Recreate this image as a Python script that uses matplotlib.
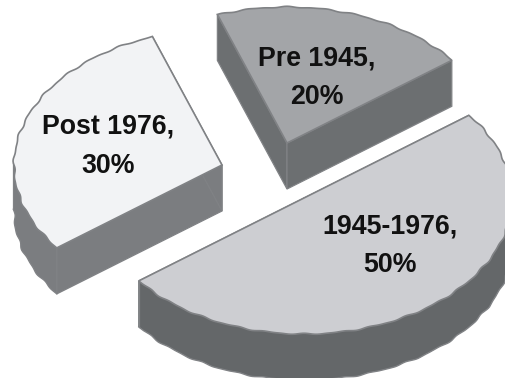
import numpy as np
import matplotlib
matplotlib.use("Agg")
import matplotlib.pyplot as plt
from matplotlib.patches import Polygon

categories = ["Pre 1945", "1945-1976", "Post 1976"]
values = [20, 50, 30]

# layout, pixels
APEX = [(287, 143), (304, 198), (222, 165)]
LABEL_AT = [(317, 78), (390, 246), (108, 146.5)]
TOP_COLORS = ["#A3A5A8", "#CDCED2", "#F2F3F5"]
RIM_COLORS = ["#646769", "#646769", "#7B7D80"]
RADIAL_COLORS = ["#6C6F71", "#646769", "#7B7D80"]
EDGE = "#808285"
RX, RY = 208, 136
DEPTH = 46
START = 109.5


def slice_arc(apex, t0, t1):
    # t goes clockwise from t0 down to t1, degrees
    n = max(int(abs(t0 - t1) * 1.5), 8)
    t = np.radians(np.linspace(t0, t1, n))
    # the rim of the original is slightly bumpy
    wob = 1 + 0.0035 * np.sin(t * 37) + 0.002 * np.sin(t * 61)
    x = apex[0] + RX * wob * np.cos(t)
    y = apex[1] - RY * wob * np.sin(t)
    return np.column_stack([x, y]), t


fig = plt.figure(figsize=(5.06, 3.78), dpi=100)
ax = fig.add_axes([0, 0, 1, 1])
ax.set_xlim(0, 506)
ax.set_ylim(378, 0)
ax.axis("off")

angle = START
for i, val in enumerate(values):
    sweep = val / sum(values) * 360
    apex = np.array(APEX[i], dtype=float)
    arc, t = slice_arc(apex, angle, angle - sweep)
    down = np.array([0, DEPTH])
    z = 2 + i * 0.1

    # radial walls
    for end in (arc[0], arc[-1]):
        ax.add_patch(Polygon([apex, end, end + down, apex + down], closed=True,
                             facecolor=RADIAL_COLORS[i], edgecolor=EDGE,
                             lw=0.9, zorder=z))

    # rim wall, only the part facing the viewer
    front = arc[np.sin(t) <= 0.02]
    if len(front) > 1:
        rim = np.vstack([front, (front + down)[::-1]])
        ax.add_patch(Polygon(rim, closed=True, facecolor=RIM_COLORS[i],
                             edgecolor="none", zorder=z + 0.01))
        ax.plot(front[:, 0], front[:, 1] + DEPTH, color=EDGE, lw=1.0, zorder=z + 0.02)
        ax.plot([front[-1, 0]] * 2, [front[-1, 1], front[-1, 1] + DEPTH],
                color=EDGE, lw=0.9, zorder=z + 0.02)

    # walls of later slices never overlap this one, top goes last
    ax.add_patch(Polygon(np.vstack([apex, arc]), closed=True, facecolor=TOP_COLORS[i],
                         edgecolor=EDGE, lw=1.2, zorder=z + 0.05))

    ax.text(LABEL_AT[i][0], LABEL_AT[i][1], f"{categories[i]},\n{val}%",
            ha="center", va="center", multialignment="center",
            family="Liberation Sans", weight="bold", fontsize=19.3,
            color="#111111", linespacing=1.65, zorder=5)
    angle -= sweep

fig.savefig("out.png", dpi=100)
